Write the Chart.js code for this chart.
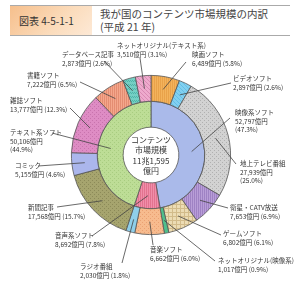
<!DOCTYPE html>
<html>
<head>
<meta charset="utf-8">
<script src="https://cdn.jsdelivr.net/npm/chart.js@4.4.0/dist/chart.umd.min.js"></script>
<style>
  html, body { margin:0; padding:0; background:#fff; }
  body { width:300px; height:294px; position:relative; overflow:hidden; font-family:"Noto Sans CJK JP", "Noto Sans", sans-serif; }
  #head { position:absolute; left:10px; top:5px; width:280px; height:29px; border-top:1px solid #aaa; border-bottom:1px solid #aaa; }
  #num { position:absolute; left:0; top:0; width:82px; height:29px; background:linear-gradient(135deg, #f6bf8c 0%, #fbdcbc 60%, #fde9d6 100%); color:#333; font-size:10px; line-height:29px; padding-left:9px; box-sizing:border-box; }
  #ttl { position:absolute; left:90px; top:1px; color:#444; font-size:10.5px; line-height:13px; }
  #c { position:absolute; left:0; top:0; }
</style>
</head>
<body>
<div id="head">
  <div id="num">図表 4-5-1-1</div>
  <div id="ttl">我が国のコンテンツ市場規模の内訳<br>(平成 21 年)</div>
</div>
<canvas id="c" width="300" height="294"></canvas>
<script>
// 外側: 個別ソフト (億円)
var outer_names = ['映画ソフト','ビデオソフト','地上テレビ番組','衛星・CATV放送','ゲームソフト','ネットオリジナル(映像系)','音楽ソフト','ラジオ番組','新聞記事','コミック','雑誌ソフト','書籍ソフト','データベース記事','ネットオリジナル(テキスト系)'];
var outer_values = [6489,2897,27939,7653,6802,1017,6662,2030,17568,5155,13777,7222,2873,3510];
var outer_pcts = [5.8,2.6,25.0,6.9,6.1,0.9,6.0,1.8,15.7,4.6,12.3,6.5,2.6,3.1];
// 内側: 系統別
var inner_names = ['映像系ソフト','音声系ソフト','テキスト系ソフト'];
var inner_values = [52797,8692,50106];
var inner_pcts = [47.3,7.8,44.9];
var center_text = ['コンテンツ','市場規模','11兆1,595','億円'];

function pat(bg, fg, kind) {
  var c = document.createElement('canvas');
  c.width = 4; c.height = 4;
  var x = c.getContext('2d');
  x.fillStyle = bg; x.fillRect(0,0,4,4);
  x.fillStyle = fg;
  if (kind == 'dots') { x.fillRect(0,0,1,1); x.fillRect(2,2,1,1); }
  if (kind == 'vline') { x.fillRect(0,0,1,4); x.fillRect(2,0,1,4); }
  if (kind == 'grid') { x.fillRect(0,0,4,1); x.fillRect(0,0,1,4); }
  if (kind == 'diag') { x.fillRect(0,0,1,1); x.fillRect(1,1,1,1); x.fillRect(2,2,1,1); x.fillRect(3,3,1,1); }
  if (kind == 'zig') { x.fillRect(0,0,1,1); x.fillRect(1,1,1,1); x.fillRect(2,0,1,1); x.fillRect(3,1,1,1); }
  return x.createPattern(c, 'repeat');
}

var outer_colors = [
  pat('#f3b35c','#e9a24a','vline'),
  pat('#82d0f0','#64bfe6','diag'),
  pat('#d2d2d2','#b0b0b0','dots'),
  pat('#b99ed8','#9f82c4','vline'),
  pat('#ecdcb4','#d2bb8a','grid'),
  '#4fbf8c',
  pat('#f7bb8e','#eaa173','dots'),
  '#8fcfea',
  pat('#a6a46e','#8c8a58','dots'),
  '#abb6ec',
  pat('#de8cc4','#c873ad','dots'),
  pat('#f4a78c','#e48d72','vline'),
  pat('#74cfc4','#4fb4a8','zig'),
  pat('#eeaacd','#d98ab4','diag')
];
var inner_colors = [
  '#aabaea',
  pat('#f18eaa','#e2738f','vline'),
  pat('#bddd96','#a8cc80','dots')
];

// ラベル位置 (左上の文字の中心, 引き出し線の始点)
var label_pos = {
  '映画ソフト': [192,55, 186,62],
  'ビデオソフト': [233,79, 231,83],
  '地上テレビ番組': [240,164, 236,164],
  '衛星・CATV放送': [230,208, 228,208],
  'ゲームソフト': [223,234, 221,235],
  'ネットオリジナル(映像系)': [218,261, 215,261],
  '音楽ソフト': [150,250, 153,245],
  'ラジオ番組': [80,267, 122,263],
  '新聞記事': [28,208, 57,207],
  'コミック': [15,166, 38,166],
  '雑誌ソフト': [10,101, 70,108],
  '書籍ソフト': [27,76, 80,82],
  'データベース記事': [62,55, 104,61],
  'ネットオリジナル(テキスト系)': [117,46, 140,58],
  '映像系ソフト': [235,113, 230,118],
  '音声系ソフト': [55,236, 92,236],
  'テキスト系ソフト': [10,133, 52,133]
};
var three_line = ['映像系ソフト','地上テレビ番組','テキスト系ソフト'];

function yen(v) { return v.toLocaleString('en-US') + '億円'; }

var labelPlugin = {
  id: 'labels',
  afterDraw: function(chart) {
    var ctx = chart.ctx;
    ctx.save();
    // 中央の文字
    var a0 = chart.getDatasetMeta(1).data[0];
    ctx.fillStyle = '#333';
    ctx.font = '8px "Noto Sans CJK JP"';
    ctx.textAlign = 'center';
    ctx.textBaseline = 'middle';
    center_text.forEach(function(t, i) {
      ctx.fillText(t, a0.x, a0.y - 15 + i * 10.3);
    });
    // 各ラベル
    ctx.font = '6.5px "Noto Sans CJK JP"';
    ctx.textAlign = 'left';
    var sets = [[outer_names, outer_values, outer_pcts, 0], [inner_names, inner_values, inner_pcts, 1]];
    sets.forEach(function(s) {
      var meta = chart.getDatasetMeta(s[3]);
      s[0].forEach(function(name, i) {
        var p = label_pos[name];
        var el = meta.data[i];
        var mid = (el.startAngle + el.endAngle) / 2;
        var r = (el.innerRadius + el.outerRadius) / 2;
        ctx.strokeStyle = '#444';
        ctx.lineWidth = 0.8;
        ctx.beginPath();
        ctx.moveTo(p[2], p[3]);
        ctx.lineTo(el.x + Math.cos(mid) * r, el.y + Math.sin(mid) * r);
        ctx.stroke();
        var lines;
        if (three_line.indexOf(name) >= 0) {
          lines = [name, yen(s[1][i]), '(' + s[2][i].toFixed(1) + '%)'];
        } else {
          lines = [name, yen(s[1][i]) + ' (' + s[2][i].toFixed(1) + '%)'];
        }
        ctx.fillStyle = '#333';
        lines.forEach(function(t, j) {
          ctx.fillText(t, p[0], p[1] + j * 8.5);
        });
      });
    });
    ctx.restore();
  }
};

var chart = new Chart(document.getElementById('c'), {
  type: 'doughnut',
  data: {
    labels: outer_names,
    datasets: [{
      data: outer_values,
      backgroundColor: outer_colors,
      borderColor: '#555',
      borderWidth: 0.8
    }, {
      data: inner_values,
      backgroundColor: inner_colors,
      borderColor: '#555',
      borderWidth: 0.8
    }]
  },
  options: {
    responsive: false,
    animation: false,
    cutout: '35%',
    layout: { padding: { left: 71, right: 69, top: 75, bottom: 59 } },
    plugins: { legend: { display: false }, tooltip: { enabled: false } }
  },
  plugins: [labelPlugin]
});
</script>
</body>
</html>
